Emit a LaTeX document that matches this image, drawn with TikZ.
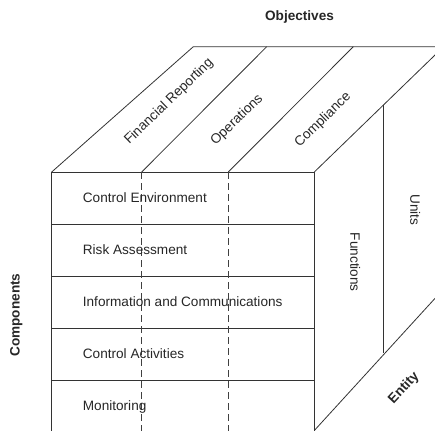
\documentclass[tikz,border=0pt]{standalone}
\usepackage{fontspec}
\setmainfont{Liberation Sans}

\begin{document}
\begin{tikzpicture}[x=1bp,y=-1bp,
    edge/.style={line width=0.8bp, black!80},
    cut/.style={line width=0.8bp, black!75, dash pattern=on 7bp off 4bp},
    lbl/.style={inner sep=0pt, text=black!85, font=\fontsize{13.6bp}{16bp}\selectfont},
    blbl/.style={lbl, font=\fontsize{13.6bp}{16bp}\selectfont\bfseries}]
      \clip (0,0) rectangle (435,430) ;
      % front face
      \coordinate (FL) at (51.7,172) ;
      \coordinate (FR) at (314.3,172) ;
      \draw[edge] (FL) rectangle (314.3,432) ;
      \foreach \y in {224,276,328,380}
        \draw[edge] (51.7,\y) -- (314.3,\y) ;
      \draw[cut] (141.7,172) -- (141.7,440) ;
      \draw[cut] (228.3,172) -- (228.3,440) ;
      % top face
      \draw[edge] (FL) -- (193.3,46.7) -- (460,46.7) ;
      \draw[edge] (141.7,172) -- (266.7,46.7) ;
      \draw[edge] (228.3,172) -- (353.3,46.7) ;
      \draw[edge] (FR) -- (443.6,46.7) ;
      % side face
      \draw[edge] (383.3,104.7) -- (383.3,353) ;
      \draw[edge] (314.3,430.5) -- (445,287.4) ;
      % labels
      \node[blbl,anchor=base] (obj) at (299.5,20) {Objectives} ;
      \node[blbl,anchor=base,rotate=90] (comp) at (19.5,315) {Components} ;
      \node[lbl,rotate=44] (fin) at (169,101.7) {Financial Reporting} ;
      \node[lbl,rotate=44] (ops) at (237,120) {Operations} ;
      \node[lbl,rotate=44] (compl) at (323,120) {Compliance} ;
      \node[lbl,anchor=base west] (r1) at (82.7,202.8) {Control Environment} ;
      \node[lbl,anchor=base west] (r2) at (82.7,254.8) {Risk Assessment} ;
      \node[lbl,anchor=base west] (r3) at (82.7,306.8) {Information and Communications} ;
      \node[lbl,anchor=base west] (r4) at (82.7,358.8) {Control Activities} ;
      \node[lbl,anchor=base west] (r5) at (82.7,410.8) {Monitoring} ;
      \node[lbl,anchor=base,rotate=-90] (fun) at (350.3,262.3) {Functions} ;
      \node[lbl,anchor=base,rotate=-90] (uni) at (410.3,210) {Units} ;
      \node[blbl,rotate=47] (ent) at (404,388) {Entity} ;
\end{tikzpicture}
\end{document}
